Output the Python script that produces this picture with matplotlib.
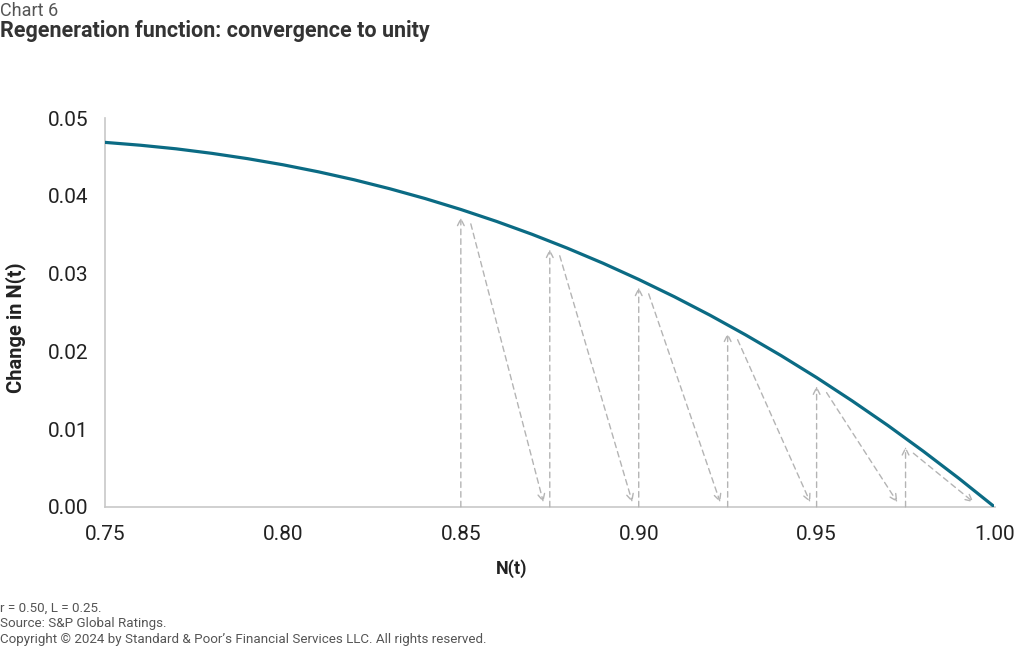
import matplotlib.pyplot as plt

plt.rcParams['font.family'] = ['Roboto', 'DejaVu Sans']

# curve: change in N(t) against N(t)
n_vals = [0.75, 0.76, 0.77, 0.78, 0.79, 0.80, 0.81, 0.82, 0.83, 0.84, 0.85,
          0.86, 0.87, 0.88, 0.89, 0.90, 0.91, 0.92, 0.93, 0.94, 0.95,
          0.96, 0.97, 0.98, 0.99, 1.00]
change_vals = [0.04688, 0.04651, 0.04605, 0.04547, 0.04479, 0.04400, 0.04309,
               0.04207, 0.04092, 0.03965, 0.03825, 0.03672, 0.03506, 0.03326,
               0.03133, 0.02925, 0.02703, 0.02466, 0.02213, 0.01946, 0.01663,
               0.01363, 0.01048, 0.00715, 0.00366, 0.0]

# cobweb steps: vertical rise to the curve
step_x = [0.85, 0.875, 0.90, 0.925, 0.95, 0.975]
step_y = [0.0383, 0.0342, 0.0293, 0.0234, 0.0166, 0.0088]

# diagonal drops back to the axis (start / end)
diag_x0 = [0.8528, 0.8778, 0.9028, 0.9278, 0.9528, 0.9772]
diag_y0 = [0.0364, 0.0323, 0.0274, 0.0215, 0.0147, 0.0069]
diag_x1 = [0.8732, 0.8982, 0.9229, 0.9482, 0.9727, 0.9941]
diag_y1 = [0.0006, 0.0006, 0.0006, 0.0006, 0.0006, 0.0006]

xticks = [0.75, 0.80, 0.85, 0.90, 0.95, 1.00]
yticks = [0.00, 0.01, 0.02, 0.03, 0.04, 0.05]

fig = plt.figure(figsize=(10.2, 6.49), dpi=100)
ax = fig.add_axes([0.103, 0.219, 0.872, 0.599])

ax.plot(n_vals, change_vals, color='#0b6b84', lw=2.3, solid_capstyle='round', zorder=3)

arrow_col = '#b4b4b4'
arrow_kw = dict(arrowstyle='->', color=arrow_col, lw=1.0,
                linestyle=(0, (4, 3)), mutation_scale=12)
for x0, y0 in zip(step_x, step_y):
    ax.annotate('', xy=(x0, y0), xytext=(x0, 0),
                arrowprops=dict(shrinkA=0, shrinkB=6, **arrow_kw))
for xa, ya, xb, yb in zip(diag_x0, diag_y0, diag_x1, diag_y1):
    ax.annotate('', xy=(xb, yb), xytext=(xa, ya),
                arrowprops=dict(shrinkA=0, shrinkB=0, **arrow_kw))

ax.set_xlim(0.75, 1.0)
ax.set_ylim(0, 0.05)
ax.set_xticks(xticks)
ax.set_xticklabels([f'{v:.2f}' for v in xticks])
ax.set_yticks(yticks)
ax.set_yticklabels([f'{v:.2f}' for v in yticks])
ax.tick_params(length=0, labelsize=15, colors='#222222')
ax.tick_params(axis='x', pad=13)
ax.tick_params(axis='y', pad=12)

for s in ['top', 'right']:
    ax.spines[s].set_visible(False)
for s in ['left', 'bottom']:
    ax.spines[s].set_color('#c8c8c8')
    ax.spines[s].set_linewidth(1.2)

ax.set_xlabel('N(t)', fontsize=13, fontweight='bold', color='#222222')
ax.xaxis.set_label_coords(0.457, -0.135)
ax.set_ylabel('Change in N(t)', fontsize=14.5, fontweight='bold', color='#222222')
ax.yaxis.set_label_coords(-0.089, 0.46)

fig.text(0.0, 0.983, 'Chart 6', fontsize=13, color='#555555', va='center')
fig.text(0.0, 0.952, 'Regeneration function: convergence to unity', fontsize=15.5,
         fontweight='bold', color='#333333', va='center')

fig.text(0.0, 0.063, 'r = 0.50, L = 0.25.', fontsize=9.6, color='#555555', va='center')
fig.text(0.0, 0.039, 'Source: S&P Global Ratings.', fontsize=9.6, color='#555555', va='center')
fig.text(0.0, 0.014, 'Copyright \u00a9 2024 by Standard & Poor\u2019s Financial Services LLC. All rights reserved.',
         fontsize=9.6, color='#555555', va='center')

fig.savefig('out.png', dpi=100)
